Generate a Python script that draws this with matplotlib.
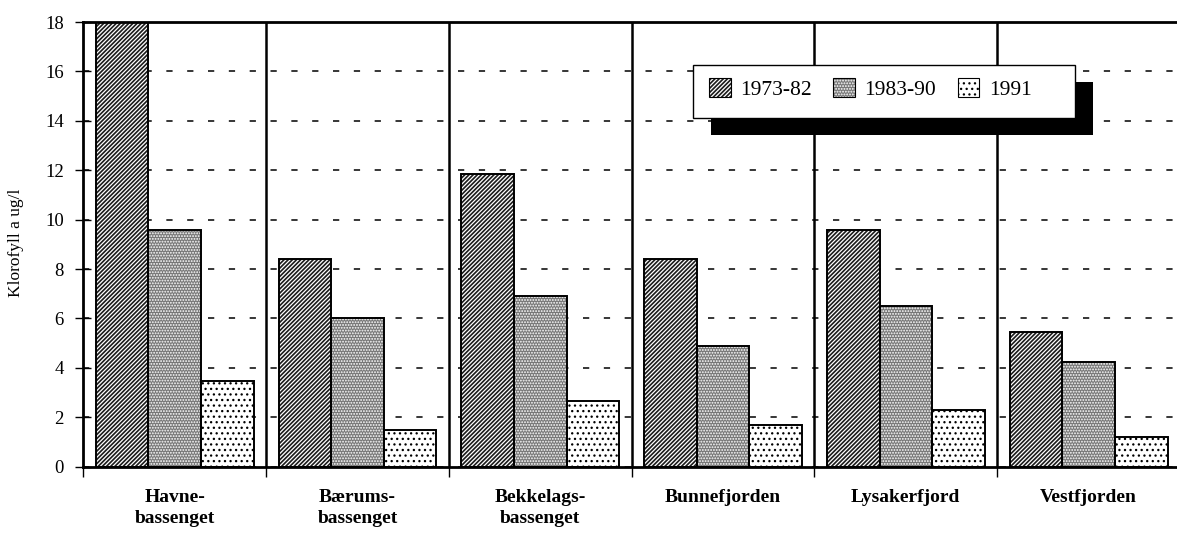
import matplotlib
matplotlib.use("Agg")
import matplotlib.pyplot as plt
from matplotlib.patches import Patch, Rectangle
from matplotlib.legend_handler import HandlerTuple
import numpy as np

# Mean chlorophyll a (ug/l) per basin and period
regions = ["Havne-\nbassenget", "Bærums-\nbassenget", "Bekkelags-\nbassenget",
           "Bunnefjorden", "Lysakerfjord", "Vestfjorden"]
periods = ["1973-82", "1983-90", "1991"]
chl_1973_82 = [18.0, 8.4, 11.85, 8.4, 9.6, 5.45]
chl_1983_90 = [9.6, 6.0, 6.9, 4.9, 6.5, 4.25]
chl_1991 = [3.45, 1.5, 2.65, 1.7, 2.3, 1.2]
y_ticks = [0, 2, 4, 6, 8, 10, 12, 14, 16, 18]

W, H = 1177, 533
plt.rcParams["font.family"] = ["Liberation Serif", "DejaVu Serif"]
plt.rcParams["lines.scale_dashes"] = False
plt.rcParams["hatch.linewidth"] = 0.9


def px_box(x0, y0, x1, y1):
    return [x0 / W, 1 - y1 / H, (x1 - x0) / W, (y1 - y0) / H]


fig = plt.figure(figsize=(W / 100, H / 100), dpi=100)
ax = fig.add_axes(px_box(83.3, 22, 1180, 466.7))

# fill colour, hatch colour, hatch pattern for each period
styles = [
    ("#1c1c1c", "white", "////////"),
    ("#777777", "white", "......"),
    ("white", "black", "..."),
]
series = [chl_1973_82, chl_1983_90, chl_1991]
n = len(regions)
centers = np.arange(n) + 0.5
bw = 0.288

for k, (vals, (fc, hc, hatch)) in enumerate(zip(series, styles)):
    xs = centers + (k - 1) * bw
    ax.bar(xs, vals, width=bw, color=fc, edgecolor=hc, hatch=hatch,
           linewidth=0, zorder=2)
    ax.bar(xs, vals, width=bw, fill=False, edgecolor="black",
           linewidth=1.4, zorder=3)

# group separators
for x in range(1, n + 1):
    ax.axvline(x, color="black", linewidth=1.8, zorder=1.5)

ax.set_xlim(0, n)
ax.set_ylim(0, 18)
ax.set_axisbelow(True)
ax.yaxis.grid(True, color="black", linestyle=(0, (4.5, 10.5)), linewidth=1.1)

for side in ("left", "bottom", "top"):
    ax.spines[side].set_linewidth(2.0)
ax.spines["right"].set_visible(False)

ax.set_yticks(y_ticks)
ax.tick_params(axis="y", direction="inout", length=12, width=1.0, pad=8,
               labelsize=13.5)
ax.set_xticks(np.arange(n + 1))
ax.set_xticklabels([])
ax.set_xticks(centers, minor=True)
ax.set_xticklabels(regions, minor=True, fontsize=14, fontweight="bold",
                   linespacing=1.35, va="top")
ax.tick_params(axis="x", which="major", direction="out", length=7, width=1.0)
ax.tick_params(axis="x", which="minor", length=0, pad=16)

fig.text(16 / W, 1 - 243 / H, "Klorofyll a ug/l", rotation=90,
         ha="center", va="center", fontsize=12.5)

# legend box with a solid offset shadow
lx0, ly0, lx1, ly1 = 692.7, 65, 1075, 118.3
fig.add_artist(Rectangle(((lx0 + 18) / W, 1 - (ly1 + 17) / H),
                         (lx1 - lx0) / W, (ly1 - ly0) / H,
                         transform=fig.transFigure, facecolor="black",
                         edgecolor="none", zorder=19))
fig.add_artist(Rectangle((lx0 / W, 1 - ly1 / H),
                         (lx1 - lx0) / W, (ly1 - ly0) / H,
                         transform=fig.transFigure, facecolor="white",
                         edgecolor="black", linewidth=1.0, zorder=20))

handles = [
    (Patch(facecolor=fc, edgecolor=hc, hatch=hatch, linewidth=0),
     Patch(fill=False, edgecolor="black", linewidth=0.8))
    for fc, hc, hatch in styles
]
leg = fig.legend(handles, periods, ncol=3, loc="center left",
                 bbox_to_anchor=(709 / W, 1 - 89 / H),
                 bbox_transform=fig.transFigure, frameon=False,
                 fontsize=15.5, handlelength=1.0, handleheight=1.0,
                 handletextpad=0.45, columnspacing=1.0, borderpad=0,
                 borderaxespad=0, handler_map={tuple: HandlerTuple(ndivide=1)})
leg.set_zorder(22)

fig.savefig("out.png", dpi=100)
